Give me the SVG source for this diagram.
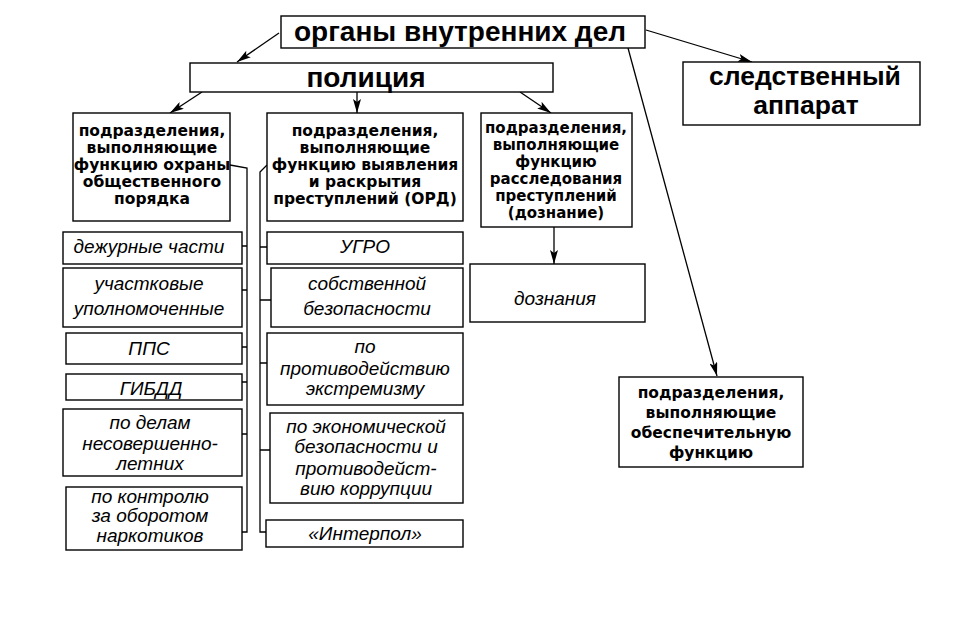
<svg xmlns="http://www.w3.org/2000/svg" width="974" height="634" viewBox="0 0 974 634">
<defs>
<marker id="arr" viewBox="0 0 14 8" refX="14" refY="4" markerWidth="14" markerHeight="8" markerUnits="userSpaceOnUse" orient="auto">
<path d="M0,0 L14,4 L0,8 L3,4 Z" fill="#000"/>
</marker>
<style>
.box{fill:#fff;stroke:#000;stroke-width:1.4}
.big{font-family:"Liberation Sans",Arial,sans-serif;font-weight:bold;font-size:28px;text-anchor:middle;fill:#000}
.bs{font-family:"DejaVu Sans","Liberation Sans",sans-serif;font-weight:bold;font-size:15.5px;text-anchor:middle;fill:#000}
.it{font-family:"Liberation Sans",Arial,sans-serif;font-style:italic;font-size:19px;text-anchor:middle;fill:#000}
.ln{fill:none;stroke:#000;stroke-width:1.3}
</style>
</defs>
<g id="connectors" class="ln">
<path d="M279,33 L237,62" marker-end="url(#arr)"/>
<path d="M646,30 L752,62" marker-end="url(#arr)"/>
<path d="M628,48 L717,376" marker-end="url(#arr)"/>
<path d="M202,92 L170,113" marker-end="url(#arr)"/>
<path d="M357,92 L357,113" marker-end="url(#arr)"/>
<path d="M520,92 L551,113" marker-end="url(#arr)"/>
<path d="M554,227 L554,264" marker-end="url(#arr)"/>
<path d="M230,165 L247,168 L247,532 L242,532 M242,246 H247 M242,290 H247 M242,347 H247 M242,382 H247 M242,434 H247"/>
<path d="M267,165 L260,172 L260,532 L266,532 M260,247 H267 M260,300 H271 M260,363 H267 M260,450 H270"/>
</g>
<g id="n-ovd"><rect class="box" x="281" y="16" width="364" height="32"/><text class="big" x="460" y="41">органы внутренних дел</text></g>
<g id="n-police"><rect class="box" x="190" y="63" width="363" height="29"/><text class="big" x="366" y="87">полиция</text></g>
<g id="n-sled"><rect class="box" x="683" y="62" width="237" height="63"/><text class="big" x="805" y="85" style="font-size:26.5px">следственный</text><text class="big" x="806" y="114" style="font-size:26.5px">аппарат</text></g>
<g id="n-oop"><rect class="box" x="73" y="113" width="157" height="108"/>
<text class="bs" x="152" y="136">подразделения,</text><text class="bs" x="152" y="153">выполняющие</text><text class="bs" x="152" y="170">функцию охраны</text><text class="bs" x="152" y="187">общественного</text><text class="bs" x="152" y="204">порядка</text></g>
<g id="n-ord"><rect class="box" x="267" y="113" width="196" height="108"/>
<text class="bs" x="365" y="136">подразделения,</text><text class="bs" x="365" y="153">выполняющие</text><text class="bs" x="365" y="170">функцию выявления</text><text class="bs" x="365" y="187">и раскрытия</text><text class="bs" x="365" y="204">преступлений (ОРД)</text></g>
<g id="n-rassl"><rect class="box" x="481" y="113" width="151" height="114"/>
<text class="bs" x="556" y="133" style="font-size:15px">подразделения,</text><text class="bs" x="556" y="150" style="font-size:15px">выполняющие</text><text class="bs" x="556" y="167" style="font-size:15px">функцию</text><text class="bs" x="556" y="184" style="font-size:15px">расследования</text><text class="bs" x="556" y="201" style="font-size:15px">преступлений</text><text class="bs" x="556" y="218" style="font-size:15px">(дознание)</text></g>
<g id="n-obesp"><rect class="box" x="619" y="377" width="184" height="90"/>
<text class="bs" x="711" y="398">подразделения,</text><text class="bs" x="711" y="418">выполняющие</text><text class="bs" x="711" y="438">обеспечительную</text><text class="bs" x="711" y="458">функцию</text></g>
<g id="n-dozn"><rect class="box" x="470" y="264" width="175" height="58"/><text class="it" x="555" y="305">дознания</text></g>
<g id="n-dezh"><rect class="box" x="63" y="232" width="179" height="32"/><text class="it" x="149" y="253">дежурные части</text></g>
<g id="n-uch"><rect class="box" x="63" y="268" width="179" height="59"/><text class="it" x="149" y="290">участковые</text><text class="it" x="149" y="315">уполномоченные</text></g>
<g id="n-pps"><rect class="box" x="66" y="333" width="176" height="31"/><text class="it" x="149" y="355">ППС</text></g>
<g id="n-gibdd"><rect class="box" x="66" y="374" width="176" height="26"/><text class="it" x="151" y="395">ГИБДД</text></g>
<g id="n-nesov"><rect class="box" x="63" y="409" width="179" height="67"/><text class="it" x="150" y="429">по делам</text><text class="it" x="150" y="450">несовершенно-</text><text class="it" x="150" y="470">летних</text></g>
<g id="n-nark"><rect class="box" x="66" y="487" width="176" height="63"/><text class="it" x="150" y="503">по контролю</text><text class="it" x="150" y="522">за оборотом</text><text class="it" x="150" y="542">наркотиков</text></g>
<g id="n-ugro"><rect class="box" x="267" y="232" width="196" height="32"/><text class="it" x="365" y="253">УГРО</text></g>
<g id="n-sob"><rect class="box" x="271" y="268" width="192" height="59"/><text class="it" x="367" y="290">собственной</text><text class="it" x="367" y="315">безопасности</text></g>
<g id="n-extr"><rect class="box" x="267" y="333" width="196" height="72"/><text class="it" x="365" y="353">по</text><text class="it" x="365" y="375">противодействию</text><text class="it" x="365" y="395">экстремизму</text></g>
<g id="n-econ"><rect class="box" x="270" y="413" width="193" height="90"/><text class="it" x="366" y="433">по экономической</text><text class="it" x="366" y="453">безопасности и</text><text class="it" x="366" y="475">противодейст-</text><text class="it" x="366" y="495">вию коррупции</text></g>
<g id="n-interpol"><rect class="box" x="266" y="520" width="197" height="27"/><text class="it" x="365" y="540">«Интерпол»</text></g>
</svg>
